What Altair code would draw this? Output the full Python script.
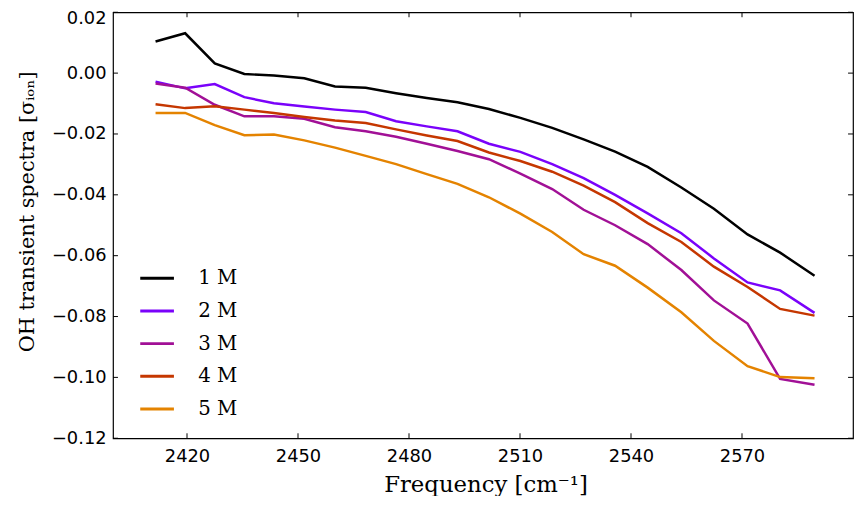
import altair as alt
import pandas as pd

freq = [2411.5, 2419.5, 2427.5, 2435.5, 2443.5, 2451.7, 2460.0, 2468.3, 2476.5, 2484.8, 2493.1,
        2501.6, 2510.1, 2518.7, 2527.2, 2535.7, 2544.5, 2553.6, 2562.4, 2571.5, 2580.3, 2589.6]

s1 = [0.0104, 0.0131, 0.0032, -0.0003, -0.0008, -0.0017, -0.0044, -0.0048, -0.0066, -0.0082, -0.0096,
      -0.0118, -0.0147, -0.0180, -0.0218, -0.0258, -0.0308, -0.0376, -0.0446, -0.0530, -0.0590, -0.0666]
s2 = [-0.0028, -0.0050, -0.0036, -0.0079, -0.0099, -0.0110, -0.0120, -0.0128, -0.0158, -0.0175, -0.0191,
      -0.0232, -0.0259, -0.0299, -0.0345, -0.0400, -0.0461, -0.0526, -0.0609, -0.0688, -0.0714, -0.0788]
s3 = [-0.0034, -0.0048, -0.0104, -0.0142, -0.0142, -0.0150, -0.0178, -0.0191, -0.0209, -0.0232, -0.0256,
      -0.0283, -0.0330, -0.0381, -0.0449, -0.0500, -0.0562, -0.0647, -0.0747, -0.0823, -0.1005, -0.1024]
s4 = [-0.0102, -0.0115, -0.0109, -0.0120, -0.0131, -0.0144, -0.0156, -0.0164, -0.0185, -0.0205, -0.0223,
      -0.0261, -0.0289, -0.0324, -0.0370, -0.0424, -0.0493, -0.0555, -0.0636, -0.0703, -0.0775, -0.0797]
s5 = [-0.0131, -0.0131, -0.0171, -0.0204, -0.0202, -0.0221, -0.0245, -0.0272, -0.0299, -0.0332, -0.0364,
      -0.0408, -0.0462, -0.0522, -0.0595, -0.0633, -0.0705, -0.0786, -0.0880, -0.0963, -0.0999, -0.1003]

series_names = ["1 M", "2 M", "3 M", "4 M", "5 M"]
series_colors = ["#000000", "#7a02fa", "#a11096", "#c53700", "#e48300"]
x_ticks = [2420, 2450, 2480, 2510, 2540, 2570]
y_ticks = [0.02, 0.00, -0.02, -0.04, -0.06, -0.08, -0.10, -0.12]

rows = []
for name, vals in zip(series_names, [s1, s2, s3, s4, s5]):
    for f, v in zip(freq, vals):
        rows.append({"freq": f, "val": v, "series": name})
df = pd.DataFrame(rows)

W, H = 747, 430
xscale = alt.Scale(domain=[2400, 2600], nice=False, zero=False)
yscale = alt.Scale(domain=[-0.12, 0.02], nice=False, zero=False)

xaxis = alt.Axis(values=x_ticks, format="d", title="Frequency [cm⁻¹]", ticks=False, domain=False,
                 grid=False, labelPadding=9, labelFontSize=18, labelFont="DejaVu Sans",
                 labelColor="black", titleFont="DejaVu Serif", titleFontSize=23,
                 titleFontWeight="normal", titleColor="black", titlePadding=9, titleX=376)
yaxis = alt.Axis(values=y_ticks, format=".2f", title="OH transient spectra [σᵢₒₙ]", ticks=False,
                 domain=False, grid=False, labelPadding=7, labelFontSize=18, labelFont="DejaVu Sans",
                 labelColor="black",
                 labelOffset={"condition": {"test": "datum.value > 0.015", "value": 6}, "value": 0},
                 titleFont="DejaVu Serif", titleFontSize=21,
                 titleFontWeight="normal", titleColor="black", titlePadding=14, titleY=201)

X = alt.X("freq:Q", scale=xscale, axis=xaxis)
Y = alt.Y("val:Q", scale=yscale, axis=yaxis)

lines = alt.Chart(df).mark_line(strokeWidth=2.5).encode(
    x=X, y=Y,
    color=alt.Color("series:N", scale=alt.Scale(domain=series_names, range=series_colors),
                    legend=alt.Legend(title=None, orient="none", legendX=26, legendY=250,
                                      symbolType="stroke", symbolSize=1156, symbolStrokeWidth=3,
                                      labelFont="DejaVu Serif", labelFontSize=20, labelColor="black",
                                      labelOffset=23, rowPadding=4, padding=0)),
)

xt = pd.DataFrame({"freq": x_ticks})
yt = pd.DataFrame({"val": y_ticks})
tick_bottom = alt.Chart(xt).mark_rule(color="black").encode(x=X, y=alt.value(H), y2=alt.value(H - 5))
tick_top = alt.Chart(xt).mark_rule(color="black").encode(x=X, y=alt.value(0), y2=alt.value(5))
tick_left = alt.Chart(yt).mark_rule(color="black").encode(y=Y, x=alt.value(0), x2=alt.value(5))
tick_right = alt.Chart(yt).mark_rule(color="black").encode(y=Y, x=alt.value(W), x2=alt.value(W - 5))

chart = alt.layer(lines, tick_bottom, tick_top, tick_left, tick_right).properties(
    width=W, height=H, autosize="none",
    padding={"left": 106, "top": 2, "right": 1, "bottom": 56},
).configure_view(stroke="black", strokeWidth=1.2)

chart.save("out.html", embed_options={"renderer": "svg", "actions": False})
